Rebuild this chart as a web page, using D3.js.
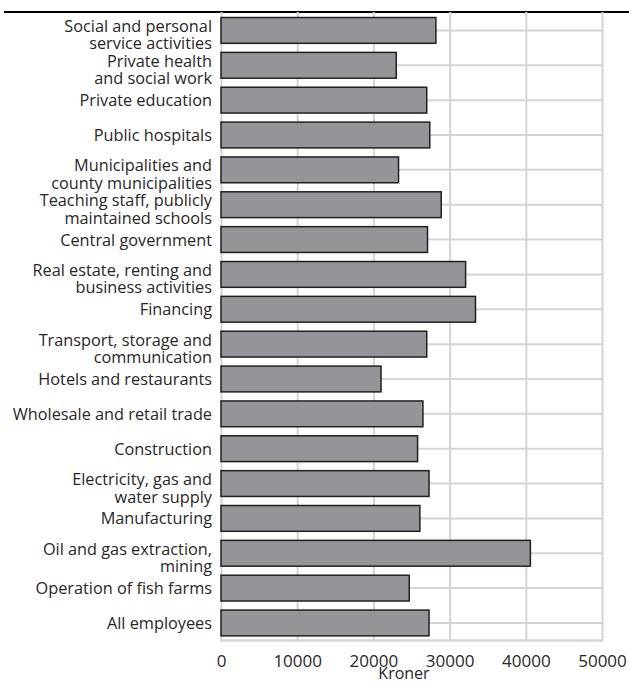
<!DOCTYPE html>
<html>
<head>
<meta charset="utf-8">
<script src="https://cdn.jsdelivr.net/npm/d3@7"></script>
<style>
  html, body { margin: 0; padding: 0; background: #fff; }
  svg { display: block; }
  text { font-family: "Open Sans", "DejaVu Sans", sans-serif; fill: #2a2627; }
</style>
</head>
<body>
<svg id="chart" width="629" height="685"></svg>
<script>
// ---- Data ----
const categories = [
  "Social and personal|service activities",
  "Private health|and social work",
  "Private education",
  "Public hospitals",
  "Municipalities and|county municipalities",
  "Teaching staff, publicly|maintained schools",
  "Central government",
  "Real estate, renting and|business activities",
  "Financing",
  "Transport, storage and|communication",
  "Hotels and restaurants",
  "Wholesale and retail trade",
  "Construction",
  "Electricity, gas and|water supply",
  "Manufacturing",
  "Oil and gas extraction,|mining",
  "Operation of fish farms",
  "All employees"
];
const values = [
  28200, 23000, 27000, 27400, 23300, 28900, 27100, 32100, 33400,
  27000, 21000, 26500, 25800, 27300, 26100, 40600, 24700, 27300
];
const xTicks = [0, 10000, 20000, 30000, 40000, 50000];
const xTitle = "Kroner";

// ---- Layout ----
const svg = d3.select("#chart");
const plotLeft = 221, plotRight = 602, plotTop = 13, plotBottom = 640.4;

const x = d3.scaleLinear().domain([0, 50000]).range([plotLeft, plotRight]);
const y = d3.scaleBand().domain(categories).range([plotTop, plotBottom])
  .paddingInner(0.26).paddingOuter(0.13);

const gridColor = "#d4d4d4";

// top rule
svg.append("line")
  .attr("x1", 4).attr("x2", 629).attr("y1", 12).attr("y2", 12)
  .attr("stroke", "#000").attr("stroke-width", 2);

// vertical gridlines
const gx = svg.append("g").attr("transform", `translate(0,${plotBottom})`)
  .call(d3.axisBottom(x).tickValues(xTicks).tickSize(-(plotBottom - 12)).tickFormat(""));
gx.select(".domain").remove();
gx.selectAll(".tick line").attr("stroke", gridColor).attr("stroke-width", 2);

// horizontal gridlines at category centres
const gy = svg.append("g").attr("transform", `translate(${plotLeft},0)`)
  .call(d3.axisLeft(y).tickSize(-(plotRight - plotLeft)).tickFormat(""));
gy.select(".domain").remove();
gy.selectAll(".tick line").attr("stroke", gridColor).attr("stroke-width", 2);

// bottom axis line
svg.append("line")
  .attr("x1", plotLeft - 1).attr("x2", plotRight + 1).attr("y1", plotBottom).attr("y2", plotBottom)
  .attr("stroke", gridColor).attr("stroke-width", 2.5);

// bars
svg.append("g").selectAll("rect").data(categories).join("rect")
  .attr("x", x(0))
  .attr("y", d => y(d))
  .attr("width", (d, i) => x(values[i]) - x(0))
  .attr("height", y.bandwidth())
  .attr("fill", "#939598")
  .attr("stroke", "#231f20")
  .attr("stroke-width", 1.5);

// category labels
const labelG = svg.append("g");
categories.forEach(c => {
  const lines = c.split("|");
  const cy = y(c) + y.bandwidth() / 2;
  const t = labelG.append("text")
    .attr("text-anchor", "end")
    .attr("font-size", "16.3px");
  if (lines.length === 1) {
    t.append("tspan").attr("x", 212).attr("y", cy + 6).text(lines[0]);
  } else {
    t.append("tspan").attr("x", 212).attr("y", cy + 1.5).text(lines[0]);
    t.append("tspan").attr("x", 212).attr("y", cy + 19).text(lines[1]);
  }
});

// x tick labels
const ax = svg.append("g").attr("transform", `translate(0,${plotBottom})`)
  .call(d3.axisBottom(x).tickValues(xTicks).tickSize(0).tickPadding(15).tickFormat(d3.format("d")));
ax.select(".domain").remove();
ax.selectAll("text").attr("font-size", "17px").attr("fill", "#2a2627")
  .attr("font-family", "\"Open Sans\", sans-serif");

// axis title
svg.append("text")
  .attr("x", 404).attr("y", 679)
  .attr("text-anchor", "middle")
  .attr("font-size", "16px")
  .text(xTitle);
</script>
</body>
</html>
